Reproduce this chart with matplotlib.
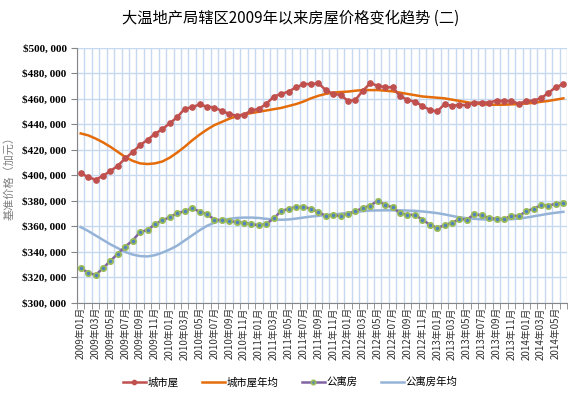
import numpy as np
import matplotlib.pyplot as plt
from matplotlib.ticker import FuncFormatter

plt.rcParams['font.family'] = ['Noto Sans CJK SC', 'DejaVu Sans']

# monthly values 2009-01 .. 2014-06, in thousands of CAD
house = [401.7, 398.8, 396.7, 399.8, 403.5, 407.7, 413.4, 418.4, 423.8, 428.0, 432.7, 436.4,
         441.0, 445.8, 452.3, 453.6, 455.7, 454.1, 453.3, 450.7, 448.4, 446.8, 447.8, 451.0,
         452.3, 456.2, 461.9, 464.0, 465.8, 469.2, 471.6, 471.8, 472.3, 467.1, 464.0, 463.2,
         458.5, 459.3, 466.6, 472.3, 470.5, 469.2, 469.2, 462.4, 459.3, 458.0, 454.6, 451.5,
         450.2, 455.9, 454.6, 455.4, 455.1, 457.2, 457.2, 457.2, 458.8, 458.5, 458.5, 456.2,
         458.5, 458.8, 460.6, 465.0, 469.2, 471.8]
house_avg = [433.0, 431.5, 429.0, 426.0, 422.5, 418.5, 414.5, 411.5, 409.5, 409.0, 409.5, 411.0,
             414.0, 418.0, 422.5, 427.5, 432.0, 436.0, 439.5, 442.0, 444.5, 446.5, 448.0, 449.0,
             450.0, 451.0, 452.0, 453.0, 454.5, 456.0, 458.0, 460.5, 462.5, 464.0, 465.0, 465.5,
             465.8, 466.5, 467.0, 467.0, 467.0, 466.5, 466.0, 465.0, 464.0, 463.0, 462.0, 461.5,
             461.0, 460.5, 459.5, 458.5, 457.5, 456.5, 456.0, 455.5, 455.5, 455.5, 455.8, 456.0,
             456.5, 457.0, 457.8, 458.5, 459.5, 460.5]
condo = [327.3, 323.9, 321.9, 327.3, 333.1, 338.6, 344.3, 349.0, 355.8, 357.1, 361.8, 364.9,
         367.2, 370.6, 371.9, 374.3, 371.7, 369.8, 365.4, 364.9, 364.1, 363.6, 362.8, 361.8,
         361.0, 362.0, 366.4, 372.2, 373.8, 375.3, 375.3, 374.0, 371.4, 368.3, 368.8, 368.3,
         369.9, 371.9, 374.5, 376.4, 380.3, 376.9, 375.0, 370.4, 369.1, 369.1, 365.4, 361.5,
         358.9, 361.0, 362.8, 365.9, 365.4, 369.6, 368.8, 366.7, 365.9, 365.9, 368.3, 368.3,
         371.9, 374.0, 376.6, 376.4, 377.9, 378.5]
condo_avg = [359.5, 356.5, 353.0, 349.5, 346.0, 343.0, 340.0, 338.0, 336.8, 336.5, 337.5, 339.5,
             342.0, 345.0, 349.0, 353.0, 357.0, 360.5, 363.0, 365.0, 366.0, 366.7, 367.0, 367.0,
             366.7, 366.0, 365.4, 365.3, 365.5, 366.2, 367.0, 367.8, 368.3, 369.0, 369.5, 370.0,
             370.8, 371.5, 372.0, 372.5, 372.6, 372.7, 372.7, 372.7, 372.5, 372.3, 371.8, 371.2,
             370.5, 369.5, 368.3, 367.2, 366.5, 366.0, 365.6, 365.4, 365.3, 365.4, 365.7, 366.2,
             367.0, 368.0, 369.0, 370.0, 370.8, 371.5]

labels = ['2009年01月', '2009年03月', '2009年05月', '2009年07月', '2009年09月', '2009年11月',
          '2010年01月', '2010年03月', '2010年05月', '2010年07月', '2010年09月', '2010年11月',
          '2011年01月', '2011年03月', '2011年05月', '2011年07月', '2011年09月', '2011年11月',
          '2012年01月', '2012年03月', '2012年05月', '2012年07月', '2012年09月', '2012年11月',
          '2013年01月', '2013年03月', '2013年05月', '2013年07月', '2013年09月', '2013年11月',
          '2014年01月', '2014年03月', '2014年05月']

x = np.arange(len(house))

fig = plt.figure(figsize=(5.81, 3.98), dpi=100)
ax = fig.add_axes([0.1325, 0.2387, 0.8435, 0.6407])

ax.plot(x, np.array(house) * 1000, color='#C0504D', lw=1.8, marker='o', ms=3.8,
        mfc='#C0504D', mec='#C0504D', label='城市屋', zorder=4)
ax.plot(x, np.array(house_avg) * 1000, color='#E46C0A', lw=1.8, label='城市屋年均', zorder=3)
ax.plot(x, np.array(condo) * 1000, color='#8064A2', lw=1.8, marker='o', ms=3.8,
        mfc='#4F81BD', mec='#9BBB59', mew=1.3, label='公寓房', zorder=4)
ax.plot(x, np.array(condo_avg) * 1000, color='#95B3D7', lw=1.8, label='公寓房年均', zorder=3)

ax.set_xlim(-0.5, len(house) - 0.5)
ax.set_ylim(300000, 500000)
ax.set_yticks(np.arange(300000, 500001, 20000))
ax.yaxis.set_major_formatter(FuncFormatter(lambda v, p: '${:,.0f}'.format(v).replace(',', ', ')))
for t in ax.get_yticklabels():
    t.set_family('Liberation Serif')
    t.set_fontweight('bold')
    t.set_fontsize(8)

ax.set_xticks(x[::2])
ax.set_xticklabels(labels, rotation=90, fontsize=7, color='#333333')
ax.set_xticks(np.arange(-0.5, len(house)), minor=True)
ax.tick_params(axis='x', which='major', length=0, pad=3)
ax.tick_params(axis='x', which='minor', length=4, color='#868686')
ax.tick_params(axis='y', length=4, color='#868686')

ax.grid(True, axis='y', which='major', color='#C6D9F1', lw=1)
ax.grid(True, axis='x', which='minor', color='#C6D9F1', lw=1)
ax.grid(False, axis='x', which='major')
ax.set_axisbelow(True)

for s in ['top', 'right']:
    ax.spines[s].set_visible(False)
for s in ['left', 'bottom']:
    ax.spines[s].set_color('#868686')

ax.set_ylabel('基准价格（加元）', fontsize=8, color='#7F7F7F', labelpad=6)
fig.text(0.5, 0.955, '大温地产局辖区2009年以来房屋价格变化趋势 (二)', ha='center', va='center',
         fontsize=11)

ax.legend(loc='center', bbox_to_anchor=(0.435, -0.31), ncol=4, markerscale=0.8,
          frameon=False, fontsize=7.5, handlelength=2.2, columnspacing=2.2, handletextpad=0.2)

fig.savefig('out.png', dpi=100)
